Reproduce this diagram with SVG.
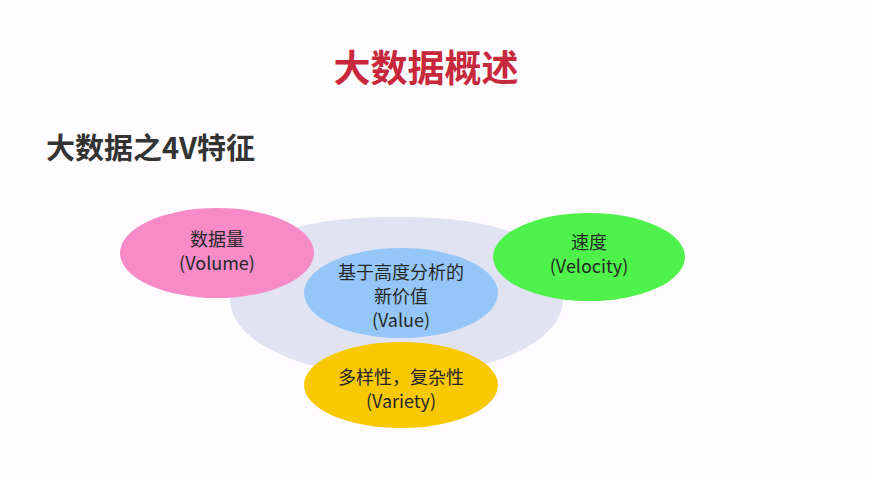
<svg xmlns="http://www.w3.org/2000/svg" width="872" height="480" viewBox="0 0 872 480">
<style>
.t{font-family:"Noto Sans CJK SC","Microsoft YaHei",sans-serif;font-size:18px;fill:#262626;text-anchor:middle}
.h{font-family:"Noto Sans CJK SC",sans-serif;font-weight:bold}
</style>
<rect width="872" height="480" fill="#FEFCFE"/>
<text class="h" x="426" y="82" font-size="37" fill="#C8283C" text-anchor="middle">大数据概述</text>
<text class="h" x="46" y="159" font-size="29" fill="#333333">大数据之4V特征</text>
<path id="bowl" d="M230,300 C230,235 300,217 397,217 C494,217 563,235 563,300 A166.5,76 0 0 1 230,300 Z" fill="#E1E3F3"/>
<g id="connectors"></g>
<g id="volume">
<ellipse cx="217" cy="253" rx="97" ry="45" fill="#F78BC7"/>
<text class="t" x="217" y="246">数据量</text>
<text class="t" x="217" y="270">(Volume)</text>
</g>
<g id="velocity">
<ellipse cx="589" cy="257" rx="96" ry="44" fill="#4EF24A"/>
<text class="t" x="589" y="249">速度</text>
<text class="t" x="589" y="273">(Velocity)</text>
</g>
<g id="value">
<ellipse cx="401" cy="293" rx="97" ry="45" fill="#95C6F8"/>
<text class="t" x="401" y="279">基于高度分析的</text>
<text class="t" x="401" y="303">新价值</text>
<text class="t" x="401" y="327">(Value)</text>
</g>
<g id="variety">
<ellipse cx="401" cy="385" rx="97" ry="43" fill="#F8C800"/>
<text class="t" x="401" y="384">多样性，复杂性</text>
<text class="t" x="401" y="408">(Variety)</text>
</g>
</svg>
